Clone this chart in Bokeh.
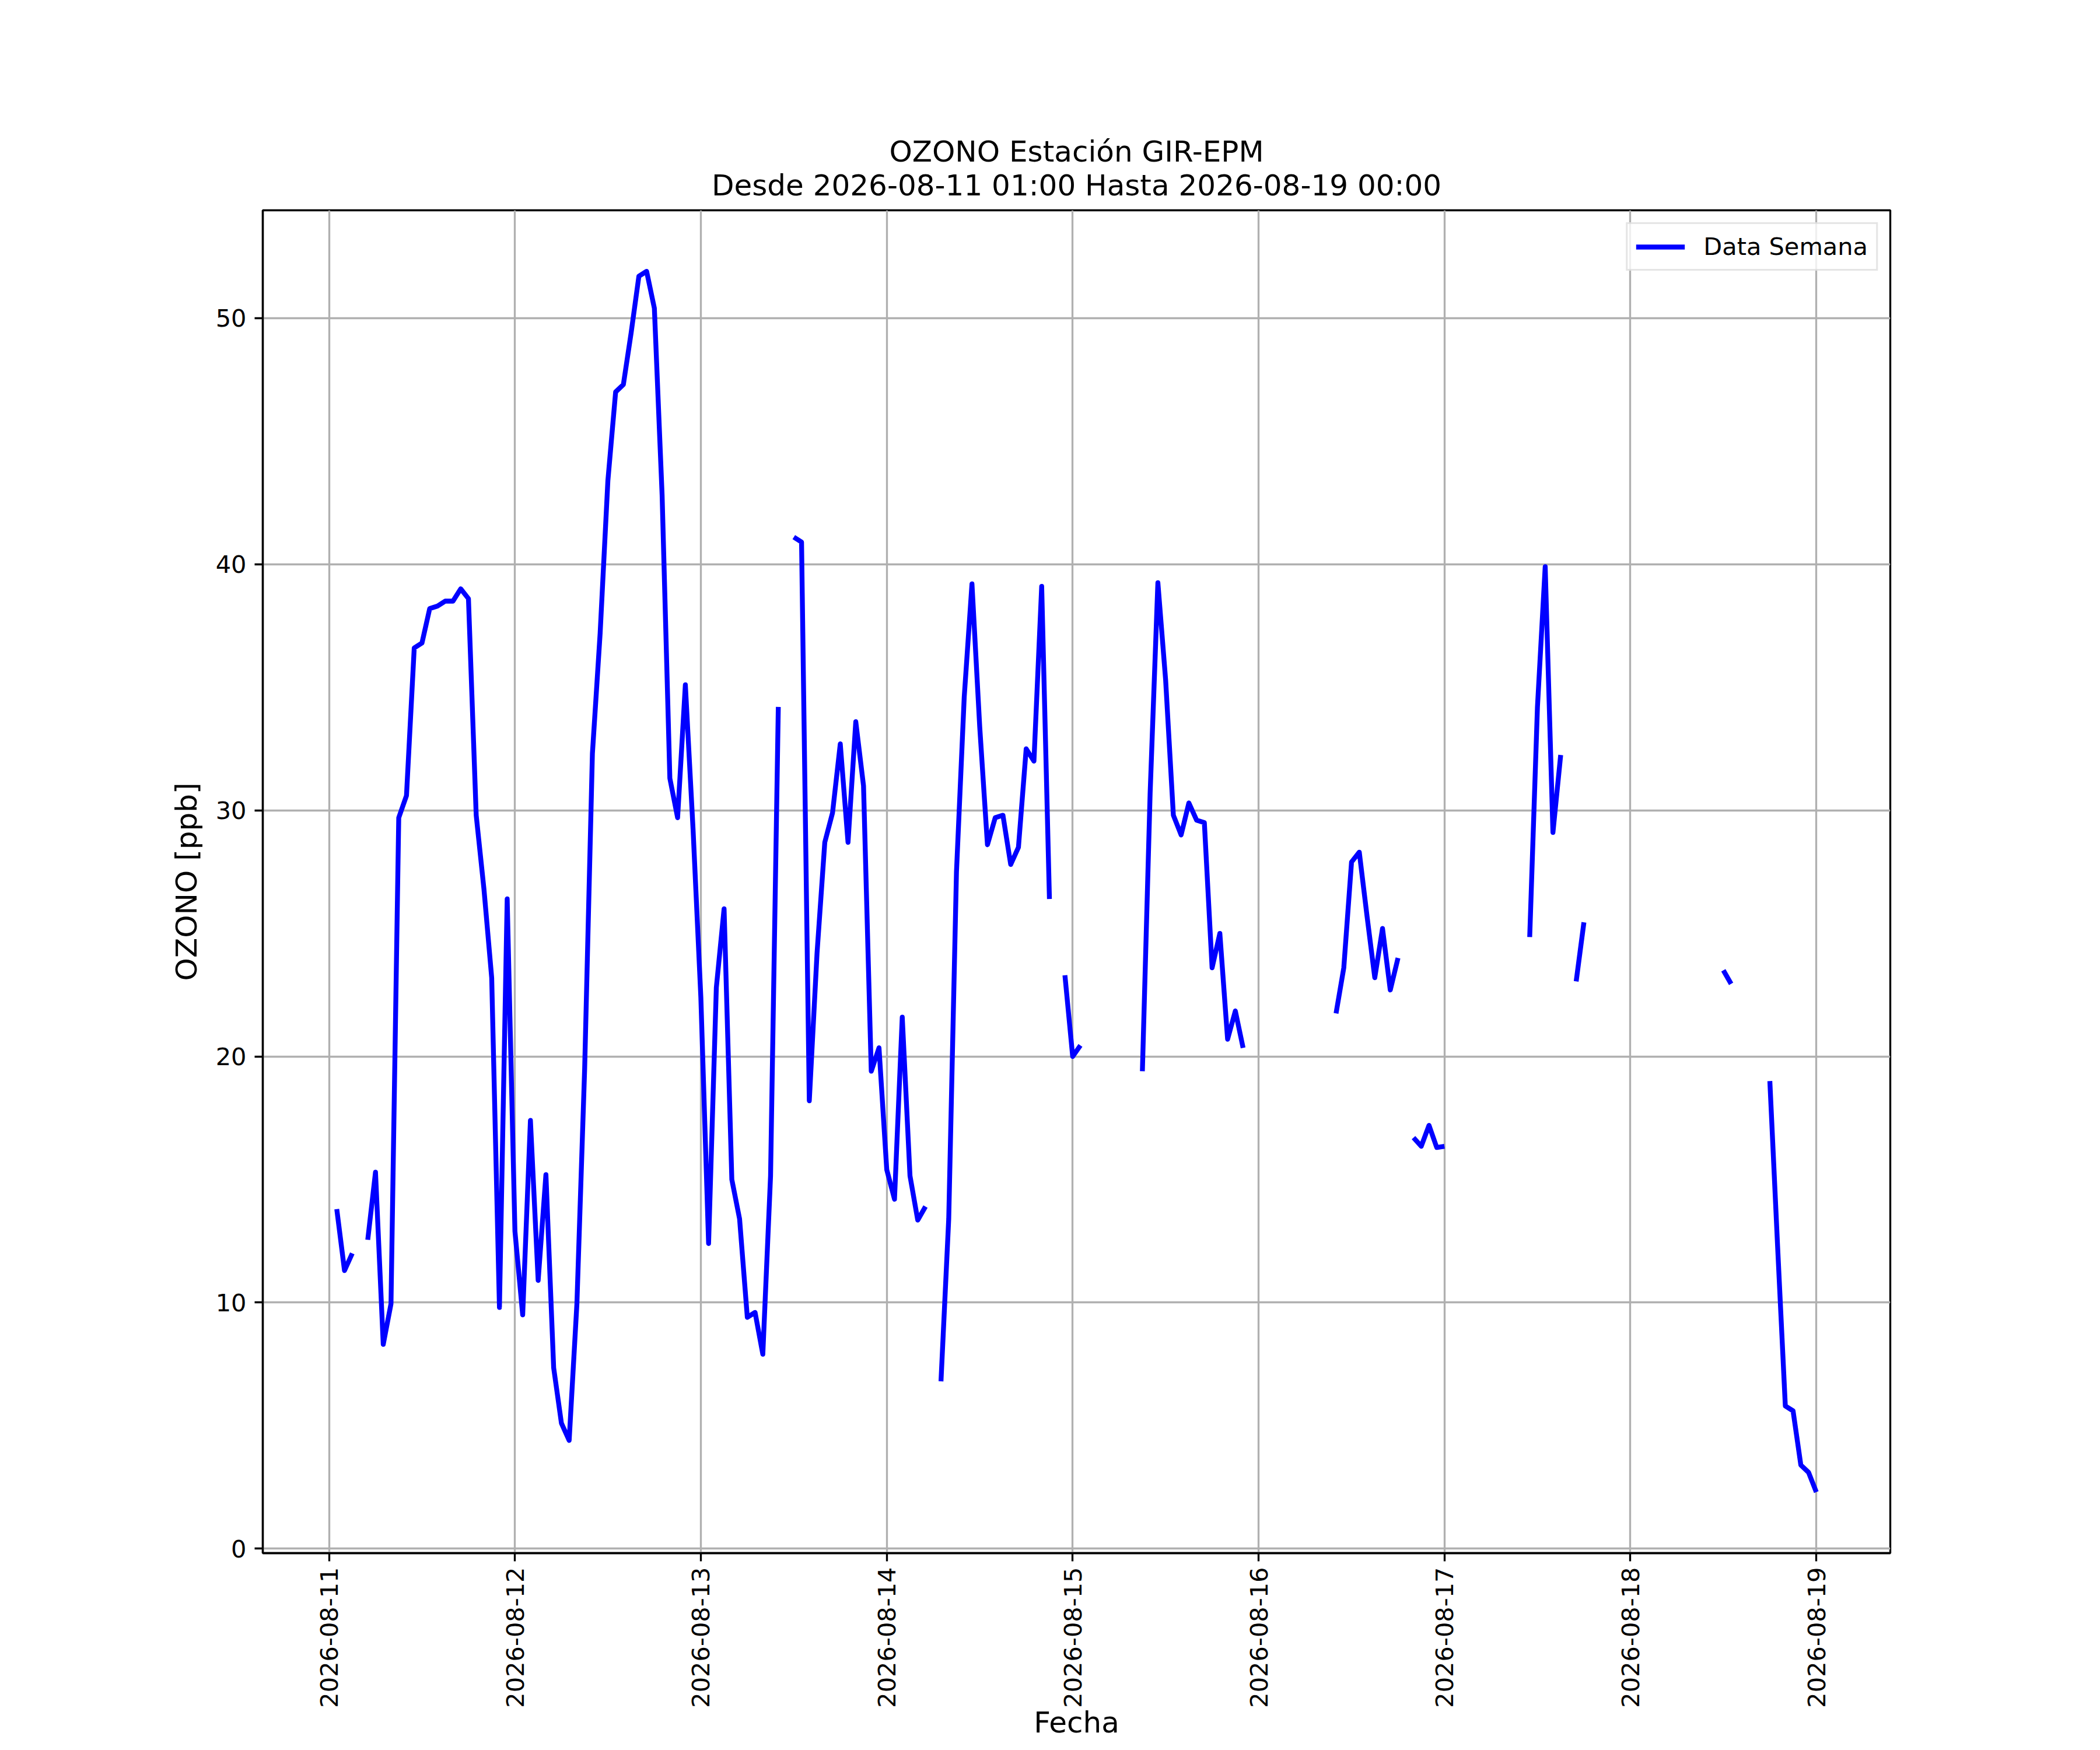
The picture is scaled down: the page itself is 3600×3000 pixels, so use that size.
import math
import numpy as np
import pandas as pd
from bokeh.plotting import figure
from bokeh.models import Range1d, FixedTicker, DatetimeTickFormatter, Title, ColumnDataSource
from bokeh.embed import file_html
from bokeh.resources import INLINE

nan = float("nan")

# Hourly ozone values (ppb), one list per day, starting 2026-08-11 01:00
day1 = [13.8, 11.3, 12.0, nan, 12.55, 15.3, 8.3, 9.95, 29.7, 30.6, 36.6, 36.8,
        38.2, 38.3, 38.5, 38.5, 39.0, 38.6, 29.8, 26.8, 23.2, 9.8, 26.4, 12.9]
day2 = [9.5, 17.4, 10.9, 15.2, 7.35, 5.1, 4.4, 9.95, 19.5, 32.3, 37.2, 43.4,
        47.0, 47.3, 49.4, 51.7, 51.9, 50.4, 42.8, 31.3, 29.7, 35.1, 29.2, 22.4]
day3 = [12.4, 22.8, 26.0, 15.0, 13.4, 9.4, 9.6, 7.9, 15.15, 34.2, nan, 41.1,
        40.9, 18.2, 24.2, 28.7, 29.9, 32.7, 28.7, 33.6, 31.0, 19.4, 20.35, 15.4]
day4 = [14.2, 21.6, 15.15, 13.35, 13.9, nan, 6.8, 13.4, 27.5, 34.6, 39.2, 33.4,
        28.6, 29.7, 29.8, 27.8, 28.5, 32.5, 32.0, 39.1, 26.4, nan, 23.3, 20.0]
day5 = [20.45, nan, nan, nan, nan, nan, nan, nan, 19.4, 30.7, 39.25, 35.3,
        29.8, 29.0, 30.3, 29.6, 29.5, 23.6, 25.0, 20.7, 21.85, 20.35, nan, nan]
day6 = [nan, nan, nan, nan, nan, nan, nan, nan, nan, 21.75, 23.6, 27.9,
        28.3, 25.7, 23.2, 25.2, 22.7, 24.0, nan, 16.7, 16.35, 17.2, 16.3, 16.35]
day7 = [nan, nan, nan, nan, nan, nan, nan, nan, nan, nan, 24.85, 34.2,
        39.9, 29.1, 32.25, nan, 23.05, 25.45, nan, nan, nan, nan, nan, nan]
day8 = [nan, nan, nan, nan, nan, nan, nan, nan, nan, nan, nan, 23.5,
        22.95, nan, nan, nan, nan, 19.0, 12.3, 5.8, 5.6, 3.4, 3.1, 2.3]

start_time = "2026-08-11 01:00"
end_time = "2026-08-19 00:00"
tick_dates = ["2026-08-11", "2026-08-12", "2026-08-13", "2026-08-14", "2026-08-15",
              "2026-08-16", "2026-08-17", "2026-08-18", "2026-08-19"]
y_ticks = [0, 10, 20, 30, 40, 50]

title_1 = "OZONO Estación GIR-EPM"
title_2 = "Desde 2026-08-11 01:00 Hasta 2026-08-19 00:00"
series_label = "Data Semana"
x_label = "Fecha"
y_label = "OZONO [ppb]"

values = np.array(day1 + day2 + day3 + day4 + day5 + day6 + day7 + day8, dtype=float)
times = pd.date_range(start_time, end_time, freq="h")

epoch = pd.Timestamp("1970-01-01")
ms = pd.Timedelta(milliseconds=1)
x_ms = ((times - epoch) // ms).astype(float)
tick_ms = [float((pd.Timestamp(d) - epoch) // ms) for d in tick_dates]

xspan = x_ms.max() - x_ms.min()
x0, x1 = x_ms.min() - 0.05 * xspan, x_ms.max() + 0.05 * xspan
ymin, ymax = np.nanmin(values), np.nanmax(values)
yspan = ymax - ymin
y0, y1 = ymin - 0.05 * yspan, ymax + 0.05 * yspan

FONT = "DejaVu Sans"
W, H = 3584, 2984
FL, FT, FR, FB = 450, 360, 3240, 2662
LW = 2 * 300 / 72.0
THIN = 0.8 * 300 / 72.0

p = figure(width=W, height=H, x_axis_type="datetime",
           output_backend="svg", toolbar_location=None, title=None,
           x_range=Range1d(x0, x1), y_range=Range1d(y0, y1),
           min_border_left=FL, min_border_right=W - FR,
           min_border_top=FT, min_border_bottom=H - FB)

p.background_fill_color = "white"
p.border_fill_color = "white"
p.outline_line_color = "black"
p.outline_line_width = THIN

src = ColumnDataSource(dict(x=x_ms, y=values))
p.line("x", "y", source=src, line_color="#0000ff", line_width=LW,
       line_join="round", legend_label=series_label)

# two-line title (second line nearest the frame)
t2 = Title(text=title_2, align="center", text_font=FONT, text_font_size="50px",
           text_font_style="normal", text_color="black", standoff=27)
p.add_layout(t2, "above")
t1 = Title(text=title_1, align="center", text_font=FONT, text_font_size="50px",
           text_font_style="normal", text_color="black", standoff=-31)
p.add_layout(t1, "above")

# axes
for ax in (p.xaxis[0], p.yaxis[0]):
    ax.axis_line_color = "black"
    ax.axis_line_width = THIN
    ax.major_tick_line_color = "black"
    ax.major_tick_line_width = THIN
    ax.major_tick_out = 14
    ax.major_tick_in = 0
    ax.minor_tick_out = 0
    ax.minor_tick_in = 0
    ax.major_label_text_font = FONT
    ax.major_label_text_font_size = "41.5px"
    ax.major_label_text_color = "black"
    ax.major_label_standoff = 10
    ax.axis_label_text_font = FONT
    ax.axis_label_text_font_size = "50px"
    ax.axis_label_text_font_style = "normal"
    ax.axis_label_text_color = "black"

p.xaxis[0].ticker = FixedTicker(ticks=tick_ms)
fmt = "%Y-%m-%d"
p.xaxis[0].formatter = DatetimeTickFormatter(days=fmt, months=fmt, hours=fmt, years=fmt,
                                             minutes=fmt, hourmin=fmt, seconds=fmt)
p.xaxis[0].major_label_orientation = math.pi / 2

p.yaxis[0].ticker = FixedTicker(ticks=y_ticks)
p.yaxis[0].axis_label = y_label
p.yaxis[0].axis_label_standoff = 18
p.yaxis[0].major_label_standoff = 14

# x label as a title below the axis, pulled up close to the tick labels
tx = Title(text=x_label, align="center", text_font=FONT, text_font_size="50px",
           text_font_style="normal", text_color="black", standoff=-18)
p.add_layout(tx, "below")

# grid
for g in (p.xgrid[0], p.ygrid[0]):
    g.grid_line_color = "#b0b0b0"
    g.grid_line_width = THIN
p.xgrid[0].ticker = p.xaxis[0].ticker
p.ygrid[0].ticker = p.yaxis[0].ticker

# legend
lg = p.legend[0]
lg.location = "top_right"
lg.margin = 21
lg.padding = 14
lg.spacing = 0
lg.glyph_width = 84
lg.glyph_height = 42
lg.label_standoff = 32
lg.label_text_font = FONT
lg.label_text_font_size = "41.5px"
lg.label_text_color = "black"
lg.border_line_color = "#cccccc"
lg.border_line_width = THIN
lg.background_fill_alpha = 0.8

open("out.html", "w").write(file_html(p, INLINE))
